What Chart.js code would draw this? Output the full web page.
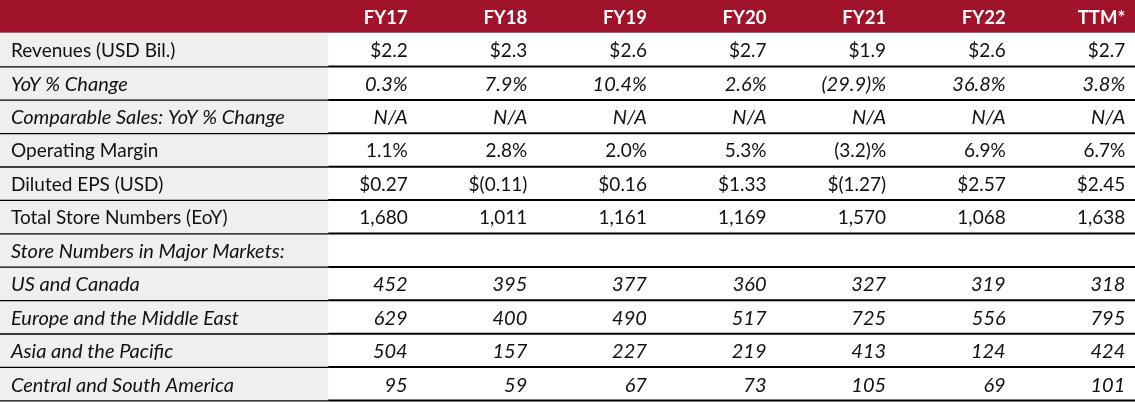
<!DOCTYPE html>
<html>
<head>
<meta charset="utf-8">
<script src="https://cdn.jsdelivr.net/npm/chart.js@4.4.0/dist/chart.umd.min.js"></script>
<style>
  html, body { margin: 0; padding: 0; background: #ffffff; }
  #wrap { width: 1135px; height: 402px; position: relative; }
</style>
</head>
<body>
<div id="wrap"><canvas id="c"></canvas></div>
<script>
// ---- Data ----
const columns = ['FY17', 'FY18', 'FY19', 'FY20', 'FY21', 'FY22', 'TTM*'];
const rowLabels = [
  'Revenues (USD Bil.)',
  'YoY % Change',
  'Comparable Sales: YoY % Change',
  'Operating Margin',
  'Diluted EPS (USD)',
  'Total Store Numbers (EoY)',
  'Store Numbers in Major Markets:',
  'US and Canada',
  'Europe and the Middle East',
  'Asia and the Pacific',
  'Central and South America'
];
const revenues   = [2.2, 2.3, 2.6, 2.7, 1.9, 2.6, 2.7];
const yoyChange  = [0.3, 7.9, 10.4, 2.6, -29.9, 36.8, 3.8];
const compSales  = [null, null, null, null, null, null, null];
const opMargin   = [1.1, 2.8, 2.0, 5.3, -3.2, 6.9, 6.7];
const dilutedEps = [0.27, -0.11, 0.16, 1.33, -1.27, 2.57, 2.45];
const totalStores = [1680, 1011, 1161, 1169, 1570, 1068, 1638];
const majorMarkets = [null, null, null, null, null, null, null];
const usCanada   = [452, 395, 377, 360, 327, 319, 318];
const europeME   = [629, 400, 490, 517, 725, 556, 795];
const asiaPac    = [504, 157, 227, 219, 413, 124, 424];
const centralSA  = [95, 59, 67, 73, 105, 69, 101];

// ---- Formatting ----
const fmtUsd1 = v => '$' + v.toFixed(1);
const fmtPct = v => v === null ? 'N/A' : (v < 0 ? '(' + Math.abs(v).toFixed(1) + ')%' : v.toFixed(1) + '%');
const fmtNA = v => v === null ? 'N/A' : String(v);
const fmtEps = v => v < 0 ? '$(' + Math.abs(v).toFixed(2) + ')' : '$' + v.toFixed(2);
const fmtInt = v => v.toLocaleString('en-US');
const fmtBlank = v => '';

const rows = [
  { values: revenues,    fmt: fmtUsd1, italic: false },
  { values: yoyChange,   fmt: fmtPct,  italic: true },
  { values: compSales,   fmt: fmtNA,   italic: true },
  { values: opMargin,    fmt: fmtPct,  italic: false },
  { values: dilutedEps,  fmt: fmtEps,  italic: false },
  { values: totalStores, fmt: fmtInt,  italic: false },
  { values: majorMarkets, fmt: fmtBlank, italic: true },
  { values: usCanada,    fmt: fmtInt,  italic: true },
  { values: europeME,    fmt: fmtInt,  italic: true },
  { values: asiaPac,     fmt: fmtInt,  italic: true },
  { values: centralSA,   fmt: fmtInt,  italic: true }
];

// ---- Style ----
const FONT = 'Lato, "Open Sans", sans-serif';
const RED = '#A0132B';
const GRAY = '#EFEFEF';
const TEXT = '#111111';

const tablePlugin = {
  id: 'tableDraw',
  afterDraw(chart) {
    const ctx = chart.ctx;
    const xs = chart.scales.x, ys = chart.scales.y;
    const nRows = rows.length + 1;
    const left = xs.left, right = xs.right;
    const labelEnd = xs.getPixelForValue(0.335);
    const rowTop = i => ys.getPixelForValue(i);
    const rowMid = i => (ys.getPixelForValue(i) + ys.getPixelForValue(i + 1)) / 2;
    ctx.save();
    // header band
    ctx.fillStyle = RED;
    ctx.fillRect(left, rowTop(0), right - left, rowTop(1) - rowTop(0) - 0.7);
    // label column background
    ctx.fillStyle = GRAY;
    ctx.fillRect(left, rowTop(1), labelEnd - left, rowTop(nRows) - rowTop(1));
    // header text
    ctx.textBaseline = 'middle';
    ctx.textAlign = 'right';
    ctx.fillStyle = '#ffffff';
    ctx.font = 'bold 18.5px ' + FONT;
    columns.forEach((c, k) => {
      ctx.fillText(c, xs.getPixelForValue(k + 1), rowMid(0) + 1);
    });
    // body
    rows.forEach((r, i) => {
      const ri = i + 1;
      const y = rowMid(ri) + 1;
      ctx.fillStyle = TEXT;
      ctx.font = r.italic ? 'italic 20px ' + FONT : '19px ' + FONT;
      ctx.textAlign = 'left';
      ctx.fillText(rowLabels[i], left + 11, y);
      ctx.textAlign = 'right';
      r.values.forEach((v, k) => {
        ctx.fillText(r.fmt(v), xs.getPixelForValue(k + 1), y);
      });
      // separator line below row
      const ly = rowTop(ri + 1);
      ctx.strokeStyle = '#000000';
      ctx.lineWidth = 1.3;
      ctx.beginPath();
      ctx.moveTo(left, ly);
      ctx.lineTo(labelEnd, ly);
      ctx.stroke();
      ctx.lineWidth = 2;
      ctx.beginPath();
      ctx.moveTo(labelEnd, ly - 0.3);
      ctx.lineTo(right, ly - 0.3);
      ctx.stroke();
    });
    ctx.restore();
  }
};

new Chart(document.getElementById('c'), {
  type: 'scatter',
  data: { datasets: [{ data: [] }] },
  options: {
    responsive: true,
    maintainAspectRatio: false,
    animation: false,
    events: [],
    layout: { padding: { left: 0, right: 0, top: 0, bottom: 1.2 } },
    plugins: { legend: { display: false }, tooltip: { enabled: false } },
    scales: {
      x: { type: 'linear', min: -2.409, max: 7.081, display: false },
      y: { type: 'linear', min: 0, max: rows.length + 1, reverse: true, display: false }
    }
  },
  plugins: [tablePlugin]
});
</script>
</body>
</html>
